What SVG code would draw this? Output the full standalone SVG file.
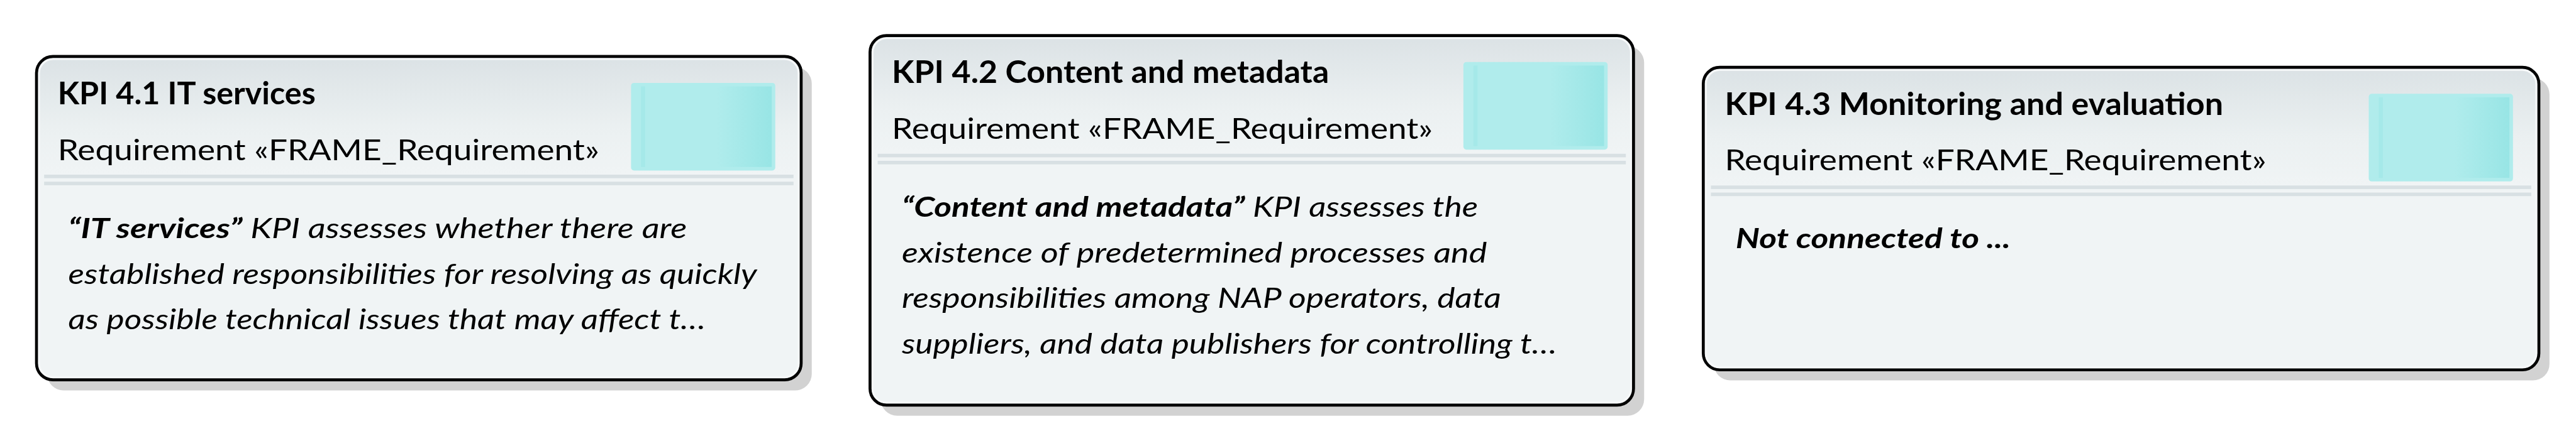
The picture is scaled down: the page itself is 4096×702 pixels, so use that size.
<svg xmlns="http://www.w3.org/2000/svg" width="4096" height="702" viewBox="0 0 4096 702">
<style>
.shadow{fill:#d2d2d2}
.box{fill:url(#boxfill);stroke:#000;stroke-width:5}
.hl{fill:none;stroke:#f6f8f9;stroke-width:3}
.sep{fill:#d8e0e3}
.title{font-family:Lato,"Open Sans",sans-serif;font-weight:bold;font-size:53.5px;fill:#000}
.req{font-family:Lato,"Open Sans",sans-serif;font-size:50px;fill:#000}
.body{font-family:Lato,"Open Sans",sans-serif;font-style:italic;font-size:47.5px;fill:#000}
.b{font-weight:bold}
.tealo{fill:#b0ecec}
.tealdark{fill:#a5e9e9}
</style>
<defs>
<linearGradient id="boxfill" gradientUnits="userSpaceOnUse" x1="0" y1="0" x2="0" y2="200">
<stop offset="0" stop-color="#dbe2e5"/>
<stop offset="0.6" stop-color="#ebf0f1"/>
<stop offset="1" stop-color="#f0f4f5"/>
</linearGradient>
<linearGradient id="tealg" x1="0" y1="0" x2="1" y2="0">
<stop offset="0" stop-color="#b0ecec"/>
<stop offset="0.58" stop-color="#b0ecec"/>
<stop offset="1" stop-color="#98e5e5"/>
</linearGradient>
<g id="teal">
<rect class="tealo" x="0" y="0" width="245" height="149" rx="5"/>
<rect fill="url(#tealg)" x="17" y="6" width="222" height="137"/>
<rect class="tealdark" x="17" y="6" width="7" height="137"/>
</g>
</defs>
<rect width="4096" height="702" fill="#fff"/>
<g transform="scale(0.936)">
<g id="connectors"/>

<g id="kpi41" transform="translate(62,96)">
<rect class="shadow" x="18" y="18" width="1299" height="550" rx="28"/>
<rect class="box" x="0" y="0" width="1299" height="550" rx="28"/>
<rect class="hl" x="4.5" y="4.5" width="1290" height="541" rx="24"/>
<use href="#teal" x="1010" y="45"/>
<rect class="sep" x="13" y="201" width="1273" height="6"/>
<rect class="sep" x="13" y="213" width="1273" height="6"/>
<text class="title" x="36" y="81" textLength="438" lengthAdjust="spacingAndGlyphs">KPI 4.1 IT services</text>
<text class="req" x="36" y="176" textLength="920" lengthAdjust="spacingAndGlyphs">Requirement «FRAME_Requirement»</text>
<text class="body" x="54" y="309" textLength="1051" lengthAdjust="spacingAndGlyphs"><tspan class="b">“IT services”</tspan> KPI assesses whether there are</text>
<text class="body" x="54" y="387" textLength="1170" lengthAdjust="spacingAndGlyphs">established responsibilities for resolving as quickly</text>
<text class="body" x="54" y="464" textLength="1083" lengthAdjust="spacingAndGlyphs">as possible technical issues that may affect t…</text>
</g>

<g id="kpi42" transform="translate(1478,60.5)">
<rect class="shadow" x="18" y="18" width="1297" height="628.5" rx="28"/>
<rect class="box" x="0" y="0" width="1297" height="628.5" rx="28"/>
<rect class="hl" x="4.5" y="4.5" width="1288" height="619.5" rx="24"/>
<use href="#teal" x="1008" y="45"/>
<rect class="sep" x="13" y="201" width="1271" height="6"/>
<rect class="sep" x="13" y="213" width="1271" height="6"/>
<text class="title" x="37" y="80.5" textLength="742.7" lengthAdjust="spacingAndGlyphs">KPI 4.2 Content and metadata</text>
<text class="req" x="37" y="176" textLength="919" lengthAdjust="spacingAndGlyphs">Requirement «FRAME_Requirement»</text>
<text class="body" x="54" y="308" textLength="979" lengthAdjust="spacingAndGlyphs"><tspan class="b">“Content and metadata”</tspan> KPI assesses the</text>
<text class="body" x="54" y="386" textLength="994" lengthAdjust="spacingAndGlyphs">existence of predetermined processes and</text>
<text class="body" x="54" y="463.5" textLength="1018" lengthAdjust="spacingAndGlyphs">responsibilities among NAP operators, data</text>
<text class="body" x="54" y="541" textLength="1113" lengthAdjust="spacingAndGlyphs">suppliers, and data publishers for controlling t…</text>
</g>

<g id="kpi43" transform="translate(2893.5,114.5)">
<rect class="shadow" x="18" y="18" width="1419.5" height="514.5" rx="28"/>
<rect class="box" x="0" y="0" width="1419.5" height="514.5" rx="28"/>
<rect class="hl" x="4.5" y="4.5" width="1410.5" height="505.5" rx="24"/>
<use href="#teal" x="1130.5" y="45"/>
<rect class="sep" x="13" y="201" width="1393.5" height="6"/>
<rect class="sep" x="13" y="213" width="1393.5" height="6"/>
<text class="title" x="36.5" y="80.5" textLength="846.7" lengthAdjust="spacingAndGlyphs">KPI 4.3 Monitoring and evaluation</text>
<text class="req" x="36.5" y="175.5" textLength="920" lengthAdjust="spacingAndGlyphs">Requirement «FRAME_Requirement»</text>
<text class="body b" x="55" y="308" textLength="467" lengthAdjust="spacingAndGlyphs">Not connected to ...</text>
</g>
</g>
</svg>
